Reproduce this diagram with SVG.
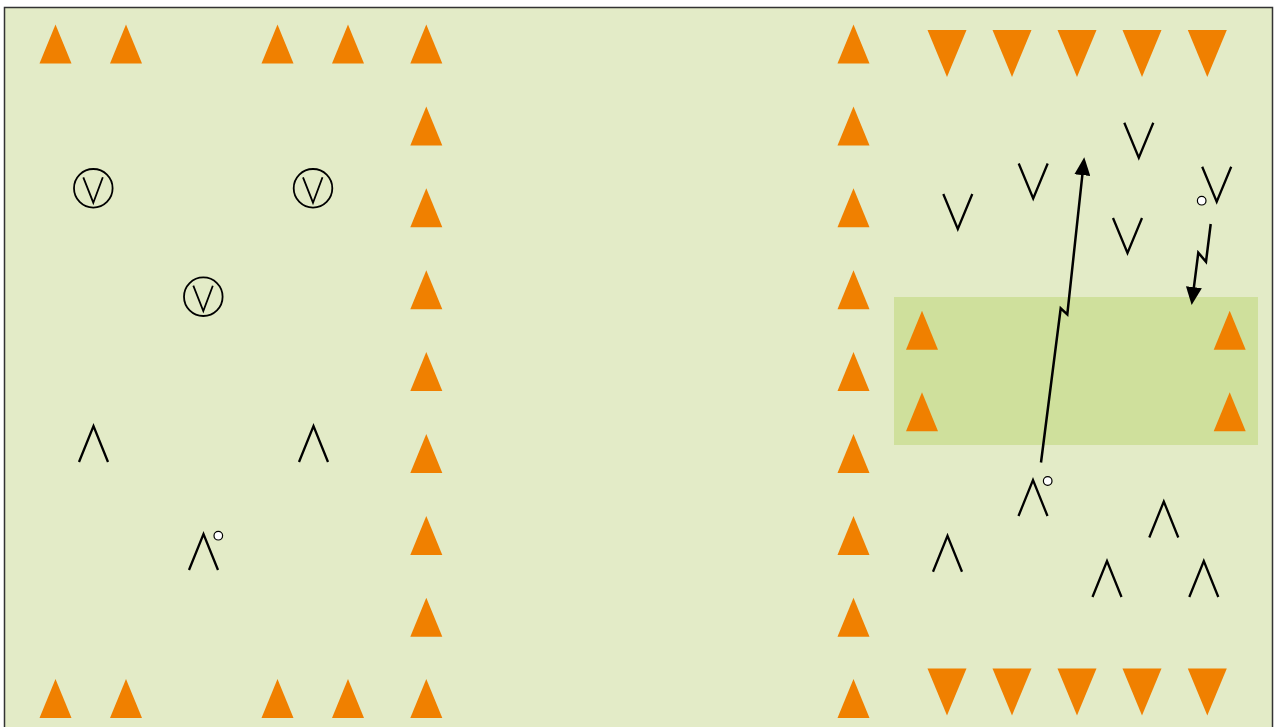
<svg xmlns="http://www.w3.org/2000/svg" xmlns:xlink="http://www.w3.org/1999/xlink" width="1274" height="727" viewBox="0 0 1274 727">
<style>
.field{fill:#e3ebc7;stroke:#333;stroke-width:1.5}
.zone{fill:#cfe09c}
.cone{fill:#f08000}
.player{fill:none;stroke:#000;stroke-width:2.3;stroke-linejoin:miter}
.ring{fill:none;stroke:#000;stroke-width:1.8}
.ball{fill:#fff;stroke:#000;stroke-width:1.2}
.run{fill:none;stroke:#000;stroke-width:2.5;stroke-linejoin:miter}
</style>
<defs>
<path id="coneUp" d="M-16,39 L0,0 L16,39 Z"/>
<path id="coneDown" d="M-19.5,0 L19.5,0 L0,47 Z"/>
<path id="vee" d="M-14.5,0 L0,35 L14.5,0"/>
<path id="lam" d="M-14.5,36 L0,0 L14.5,36"/>
<path id="vsmall" d="M-10,-11 L0,14.4 L9.5,-11"/>
<marker id="head" markerUnits="userSpaceOnUse" viewBox="0 0 18 16" refX="8" refY="8" markerWidth="18" markerHeight="16" orient="auto">
<path d="M0,0 L18,8 L0,16 Z" fill="#000"/>
</marker>
</defs>

<g id="field"><rect class="field" x="4.5" y="7.5" width="1268" height="730"/></g>
<g id="zone"><rect class="zone" x="894" y="297" width="364" height="148"/></g>

<g id="cones-left" class="cone">
<use id="c1" href="#coneUp" x="55.5" y="24.5"/>
<use id="c2" href="#coneUp" x="126" y="24.5"/>
<use id="c3" href="#coneUp" x="277.5" y="24.5"/>
<use id="c4" href="#coneUp" x="348" y="24.5"/>
<use id="c5" href="#coneUp" x="55.5" y="679"/>
<use id="c6" href="#coneUp" x="126" y="679"/>
<use id="c7" href="#coneUp" x="277.5" y="679"/>
<use id="c8" href="#coneUp" x="348" y="679"/>
</g>
<g id="cones-col1" class="cone">
<use href="#coneUp" x="426.3" y="24.5"/>
<use href="#coneUp" x="426.3" y="106.4"/>
<use href="#coneUp" x="426.3" y="188.3"/>
<use href="#coneUp" x="426.3" y="270.2"/>
<use href="#coneUp" x="426.3" y="352.1"/>
<use href="#coneUp" x="426.3" y="434"/>
<use href="#coneUp" x="426.3" y="515.9"/>
<use href="#coneUp" x="426.3" y="597.8"/>
<use href="#coneUp" x="426.3" y="679"/>
</g>
<g id="cones-col2" class="cone">
<use href="#coneUp" x="853.5" y="24.5"/>
<use href="#coneUp" x="853.5" y="106.4"/>
<use href="#coneUp" x="853.5" y="188.3"/>
<use href="#coneUp" x="853.5" y="270.2"/>
<use href="#coneUp" x="853.5" y="352.1"/>
<use href="#coneUp" x="853.5" y="434"/>
<use href="#coneUp" x="853.5" y="515.9"/>
<use href="#coneUp" x="853.5" y="597.8"/>
<use href="#coneUp" x="853.5" y="679"/>
</g>
<g id="cones-goal-top" class="cone">
<use href="#coneDown" x="947" y="30"/>
<use href="#coneDown" x="1012" y="30"/>
<use href="#coneDown" x="1077" y="30"/>
<use href="#coneDown" x="1142" y="30"/>
<use href="#coneDown" x="1207.3" y="30"/>
</g>
<g id="cones-goal-bottom" class="cone">
<use href="#coneDown" x="947" y="668.5"/>
<use href="#coneDown" x="1012" y="668.5"/>
<use href="#coneDown" x="1077" y="668.5"/>
<use href="#coneDown" x="1142" y="668.5"/>
<use href="#coneDown" x="1207.3" y="668.5"/>
</g>
<g id="cones-zone" class="cone">
<use href="#coneUp" x="922" y="310.7"/>
<use href="#coneUp" x="922" y="392.3"/>
<use href="#coneUp" x="1229.7" y="310.7"/>
<use href="#coneUp" x="1229.7" y="392.3"/>
</g>

<g id="ringed-1"><circle class="ring" cx="93.3" cy="188.3" r="19.3"/><use class="player" style="stroke-width:1.8" href="#vsmall" x="93.3" y="188.3"/></g>
<g id="ringed-2"><circle class="ring" cx="313" cy="188.3" r="19.3"/><use class="player" style="stroke-width:1.8" href="#vsmall" x="313" y="188.3"/></g>
<g id="ringed-3"><circle class="ring" cx="203.3" cy="296.7" r="19.3"/><use class="player" style="stroke-width:1.8" href="#vsmall" x="203.3" y="296.7"/></g>

<g id="att-1"><use class="player" href="#lam" x="93.5" y="426"/></g>
<g id="att-2"><use class="player" href="#lam" x="313.5" y="426"/></g>
<g id="att-3"><use class="player" href="#lam" x="203.5" y="534"/><circle class="ball" cx="218.3" cy="535.7" r="4.3"/></g>

<g id="def-1"><use class="player" href="#vee" x="957.8" y="194"/></g>
<g id="def-2"><use class="player" href="#vee" x="1033.2" y="163.5"/></g>
<g id="def-3"><use class="player" href="#vee" x="1138.8" y="122.8"/></g>
<g id="def-4"><use class="player" href="#vee" x="1216.7" y="166.8"/><circle class="ball" cx="1201.7" cy="200.7" r="4.3"/></g>
<g id="def-5"><use class="player" href="#vee" x="1127.5" y="218"/></g>

<g id="att-4"><use class="player" href="#lam" x="1033" y="480"/><circle class="ball" cx="1047.7" cy="481" r="4.3"/></g>
<g id="att-5"><use class="player" href="#lam" x="947.5" y="535.8"/></g>
<g id="att-6"><use class="player" href="#lam" x="1163.8" y="501.5"/></g>
<g id="att-7"><use class="player" href="#lam" x="1107" y="561"/></g>
<g id="att-8"><use class="player" href="#lam" x="1203.8" y="561"/></g>

<g id="connectors">
<path class="run" d="M1041,462.5 L1060.7,308.3 L1067.3,314.3 L1083.2,167.2" marker-end="url(#head)"/>
<path class="run" d="M1210.7,224 L1206,261.7 L1198.3,252.7 L1192.9,295.1" marker-end="url(#head)"/>
</g>
</svg>
